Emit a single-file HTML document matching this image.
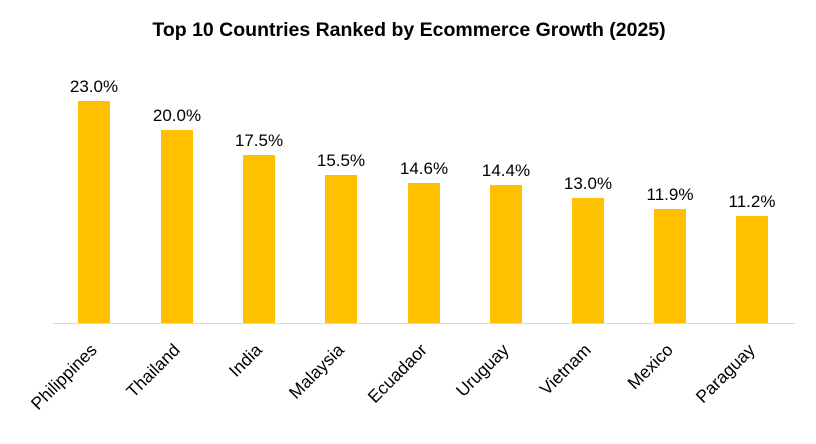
<!DOCTYPE html>
<html><head><meta charset="utf-8"><style>body{margin:0;background:#fff}svg{display:block}</style></head>
<body>
<svg width="816" height="444" xmlns="http://www.w3.org/2000/svg" font-family="Liberation Sans, sans-serif">
<text x="409" y="36" text-anchor="middle" font-size="19.5" font-weight="bold" fill="#000">Top 10 Countries Ranked by Ecommerce Growth (2025)</text>
<line x1="53" y1="323.5" x2="795" y2="323.5" stroke="#d9d9d9" stroke-width="1"/>
<g fill="#FFC000">
<rect x="78" y="101" width="32" height="222"/>
<rect x="161" y="130" width="32" height="193"/>
<rect x="243" y="155" width="32" height="168"/>
<rect x="325" y="175" width="32" height="148"/>
<rect x="408" y="183" width="32" height="140"/>
<rect x="490" y="185" width="32" height="138"/>
<rect x="572" y="198" width="32" height="125"/>
<rect x="654" y="209" width="32" height="114"/>
<rect x="736" y="216" width="32" height="107"/>
</g>
<g font-size="17" fill="#000" text-anchor="middle">
<text x="94" y="92">23.0%</text>
<text x="177" y="121">20.0%</text>
<text x="259" y="146">17.5%</text>
<text x="341" y="166">15.5%</text>
<text x="424" y="174">14.6%</text>
<text x="506" y="176">14.4%</text>
<text x="588" y="189">13.0%</text>
<text x="670" y="200">11.9%</text>
<text x="752" y="207">11.2%</text>
</g>
<g font-size="17.5" fill="#000" text-anchor="end">
<text transform="translate(98,351) rotate(-45)">Philippines</text>
<text transform="translate(181,351) rotate(-45)">Thailand</text>
<text transform="translate(263,351) rotate(-45)">India</text>
<text transform="translate(345,351) rotate(-45)">Malaysia</text>
<text transform="translate(428,351) rotate(-45)">Ecuadaor</text>
<text transform="translate(510,351) rotate(-45)">Uruguay</text>
<text transform="translate(592,351) rotate(-45)">Vietnam</text>
<text transform="translate(674,351) rotate(-45)">Mexico</text>
<text transform="translate(756,351) rotate(-45)">Paraguay</text>
</g>
</svg>
</body></html>
